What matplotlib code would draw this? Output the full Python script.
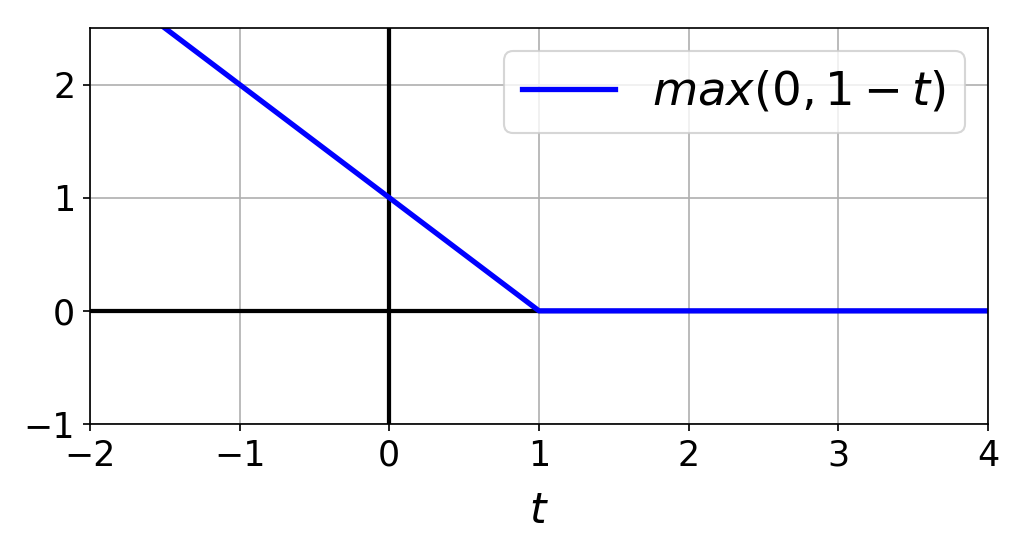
import matplotlib.pyplot as plt

# hinge loss corner points
t = [-2, 1, 4]
h = [3, 0, 0]

xlim = (-2, 4)
ylim = (-1, 2.5)
xticks = [-2, -1, 0, 1, 2, 3, 4]
yticks = [-1, 0, 1, 2]

dpi = 152
fig = plt.figure(figsize=(1024 / dpi, 550 / dpi), dpi=dpi)
ax = fig.add_axes([90 / 1024, 1 - 424 / 550, 898 / 1024, 396 / 550])

ax.plot(xlim, [0, 0], "k-", linewidth=2)
ax.plot([0, 0], ylim, "k-", linewidth=2)
ax.plot(t, h, "b-", linewidth=2.5, label="$max(0, 1 - t)$")

ax.grid(True)
ax.set_xticks(xticks)
ax.set_yticks(yticks)
ax.tick_params(labelsize=16.5)
ax.set_xlabel("$t$", fontsize=20, labelpad=8)
ax.axis([xlim[0], xlim[1], ylim[0], ylim[1]])
ax.legend(loc="upper right", fontsize=22)

fig.savefig("out.png", dpi=dpi)
